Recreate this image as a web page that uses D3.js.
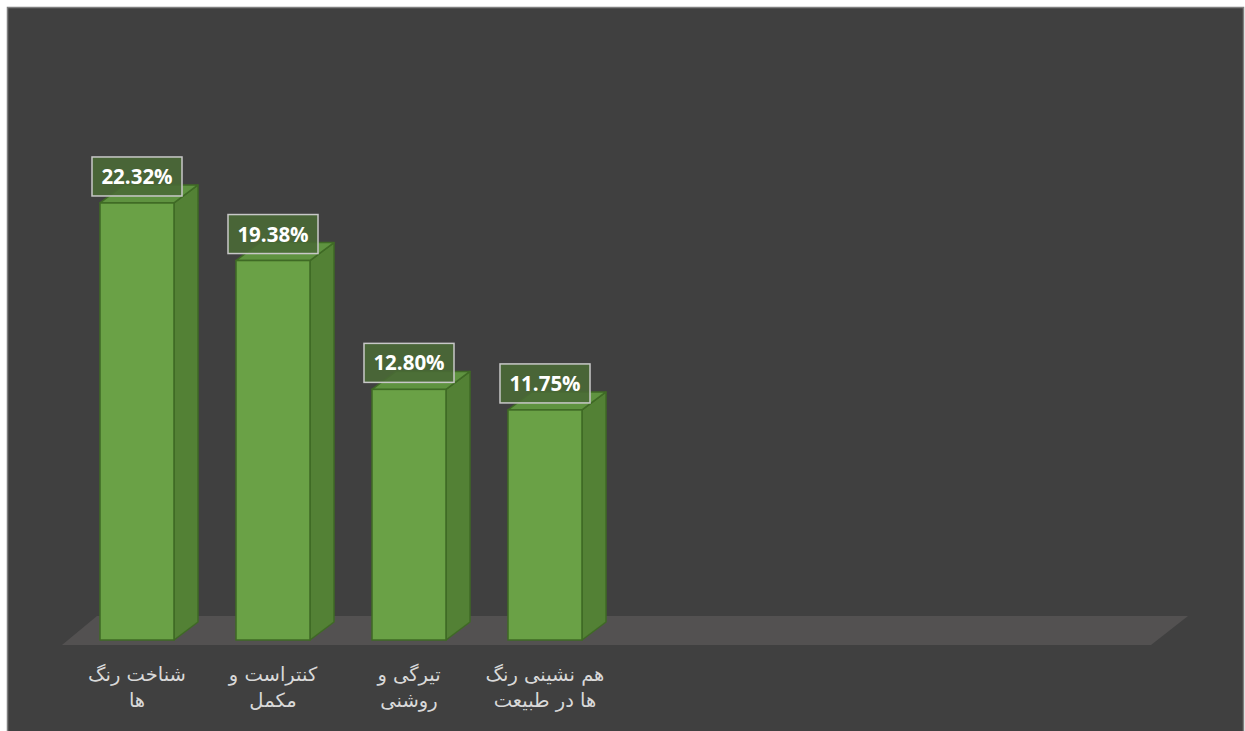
<!DOCTYPE html>
<html>
<head>
<meta charset="utf-8">
<script src="https://cdn.jsdelivr.net/npm/d3@7"></script>
<style>
  body { margin: 0; background: #fff; }
  svg { display: block; }
</style>
</head>
<body>
<div id="chart"></div>
<script>
// category labels (line breaks as in the original)
const categories = [
  "شناخت رنگ\nها",
  "کنتراست و\nمکمل",
  "تیرگی و\nروشنی",
  "هم نشینی رنگ\nها در طبیعت"
];
const values = [22.32, 19.38, 12.80, 11.75];
const slotCount = 8; // floor has room for 8 categories, only 4 are filled

const W = 1245, H = 731;
const depth = { dx: 24, dy: -18 };

const svg = d3.select("#chart").append("svg")
  .attr("width", W)
  .attr("height", H);

// chart background with thin border
svg.append("rect")
  .attr("x", 7.5).attr("y", 7.5)
  .attr("width", 1236).attr("height", 740)
  .attr("fill", "#404040")
  .attr("stroke", "#7f7f7f")
  .attr("stroke-width", 1.5);

const floorFront = 645, floorBack = 616;

const x = d3.scaleBand()
  .domain(d3.range(slotCount))
  .range([69, 69 + 136 * slotCount])
  .paddingInner(0.456)
  .paddingOuter(0.228);

const y = d3.scaleLinear()
  .domain([0, 25])
  .range([640, 640 - 25 * 19.58]);

// floor
const floorL = 62, floorR = 1151, floorShift = 35;
svg.append("path")
  .attr("d", `M${floorL},${floorFront} L${floorL + floorShift},${floorBack} L${floorR + floorShift + 2},${floorBack} L${floorR},${floorFront} Z`)
  .attr("fill", "#535151");

const bars = svg.append("g");
values.forEach((v, i) => {
  const x0 = x(i), x1 = x(i) + x.bandwidth();
  const yt = y(v), yb = y(0);
  const g = bars.append("g");
  // side face
  g.append("path")
    .attr("d", `M${x1},${yt} L${x1 + depth.dx},${yt + depth.dy} L${x1 + depth.dx},${yb + depth.dy} L${x1},${yb} Z`)
    .attr("fill", "#538135")
    .attr("stroke", "#3f6a25")
    .attr("stroke-width", 1.5)
    .attr("stroke-linejoin", "round");
  // top face
  g.append("path")
    .attr("d", `M${x0},${yt} L${x0 + depth.dx},${yt + depth.dy} L${x1 + depth.dx},${yt + depth.dy} L${x1},${yt} Z`)
    .attr("fill", "#5f9340")
    .attr("stroke", "#3f6a25")
    .attr("stroke-width", 1.5)
    .attr("stroke-linejoin", "round");
  // front face
  g.append("rect")
    .attr("x", x0).attr("y", yt)
    .attr("width", x.bandwidth()).attr("height", yb - yt)
    .attr("fill", "#6aa146")
    .attr("stroke", "#3f6a25")
    .attr("stroke-width", 1.5);
});

// data labels
const labels = svg.append("g");
values.forEach((v, i) => {
  const cx = x(i) + x.bandwidth() / 2;
  const by = y(v) - 7;
  const g = labels.append("g");
  g.append("rect")
    .attr("x", cx - 45).attr("y", by - 39)
    .attr("width", 90).attr("height", 39)
    .attr("fill", "#4a6a36")
    .attr("fill-opacity", 0.88)
    .attr("stroke", "#c8c8c8")
    .attr("stroke-width", 1.5);
  g.append("text")
    .attr("x", cx).attr("y", by - 12)
    .attr("text-anchor", "middle")
    .attr("fill", "#ffffff")
    .style("font-family", "'Open Sans', 'Noto Sans', sans-serif")
    .style("font-weight", "bold")
    .style("font-size", "20.5px")
    .text(v.toFixed(2) + "%");
});

// category labels
const cats = svg.append("g");
categories.forEach((c, i) => {
  const cx = x(i) + x.bandwidth() / 2;
  const t = cats.append("text")
    .attr("text-anchor", "middle")
    .attr("direction", "rtl")
    .attr("fill", "#d9d9d9")
    .style("font-family", "'DejaVu Sans', sans-serif")
    .style("font-size", "19.5px");
  c.split("\n").forEach((line, k) => {
    t.append("tspan")
      .attr("x", cx)
      .attr("y", 681 + k * 26)
      .text(line);
  });
});
</script>
</body>
</html>
